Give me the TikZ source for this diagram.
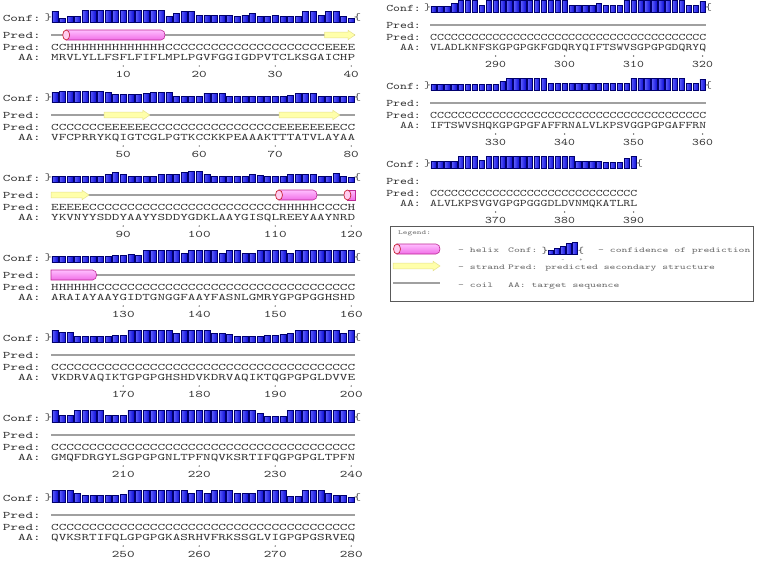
\documentclass[tikz,border=0pt]{standalone}
\usepackage{graphicx}
\definecolor{confdark}{RGB}{0,0,110}
\definecolor{confl}{RGB}{95,95,255}
\definecolor{confr}{RGB}{15,15,215}
\definecolor{coilgray}{RGB}{160,160,160}
\definecolor{helixtop}{RGB}{255,190,255}
\definecolor{helixbot}{RGB}{240,110,230}
\definecolor{helixline}{RGB}{190,40,150}
\definecolor{capfill}{RGB}{255,205,240}
\definecolor{capline}{RGB}{200,40,60}
\definecolor{strandfill}{RGB}{255,255,170}
\definecolor{strandline}{RGB}{230,225,140}
\definecolor{txt}{RGB}{50,50,50}
\definecolor{legtxt}{RGB}{110,110,110}
\newcommand\mytt[3]{\scalebox{#1}[1]{\fontsize{#2}{#2}\selectfont\ttfamily #3}}
\def\Cx{CCCCCCCCCC}
\newcommand\drawblock[9]{%
  \foreach \cv [count=\ii] in {#7}{%
    \pgfmathsetmacro\xl{#1+(\ii-1)*#2+0.8}%
    \pgfmathsetmacro\hh{1.0*\cv+2.5}%
    \path[confbar] (\xl,#3+22) rectangle ++(#2-1.6,-\hh);%
  }%
  \node[brk,anchor=base] at (#1-2.5,#3+20) {\mytt{#5}{10}{\}}};%
  \node[brk,anchor=base] at (#1+\nres*#2+2.5,#3+20) {\mytt{#5}{10}{\{}};%
  \node[lab,anchor=base east] at (#4,#3+21) {\mytt{#5}{10}{Conf:}};%
  \node[lab,anchor=base east] at (#4,#3+38) {\mytt{#5}{10}{Pred:}};%
  \node[lab,anchor=base east] at (#4,#3+50) {\mytt{#5}{10}{Pred:}};%
  \node[lab,anchor=base east] at (#4,#3+60) {\mytt{#5}{10}{AA:}};%
  \node[seqt,anchor=base west] at (#1,#3+50) {\mytt{#5}{10}{#8}};%
  \node[seqt,anchor=base west] at (#1,#3+60) {\mytt{#5}{10}{#9}};%
  \foreach \tk in \ticks{%
    \pgfmathtruncatemacro\num{#6+\tk}%
    \fill[txt] (#1+\tk*#2-0.5*#2,#3+66) circle (0.7pt);%
    \node[numt,anchor=base] at (#1+\tk*#2-0.5*#2,#3+77) {\mytt{#5}{10}{\num}};%
  }%
}
\newcommand\helixA[3]{%
  \path[helixbody] (#1,#3-5) -- (#2-4,#3-5) .. controls (#2+1.3,#3-5) and (#2+1.3,#3+5) .. (#2-4,#3+5) -- (#1,#3+5) -- cycle;
  \path[helixcap] (#1,#3) ellipse [x radius=3.5pt, y radius=5pt];
}
\newcommand\helixB[3]{%
  \path[helixbody] (#1,#3-5) -- (#2,#3-5) -- (#2,#3+5) -- (#1,#3+5) -- cycle;
  \path[helixcap] (#1,#3) ellipse [x radius=3.5pt, y radius=5pt];
}
\newcommand\helixC[3]{%
  \path[helixbody] (#1,#3-5) -- (#2-4,#3-5) .. controls (#2+1.3,#3-5) and (#2+1.3,#3+5) .. (#2-4,#3+5) -- (#1,#3+5) -- cycle;
}
\newcommand\strandarrow[3]{%
  \path[strandsty] (#1,#3-2.8) -- (#2-7,#3-2.8) -- (#2-7,#3-4.8) -- (#2,#3) -- (#2-7,#3+4.8) -- (#2-7,#3+2.8) -- (#1,#3+2.8) -- cycle;
}
\begin{document}
\begin{tikzpicture}[x=1pt,y=-1pt,
  confbar/.style={draw=confdark,line width=0.45pt,left color=confl,right color=confr},
  coil/.style={draw=coilgray,line width=1.1pt},
  helixbody/.style={draw=helixline,line width=0.6pt,top color=helixtop,bottom color=helixbot},
  helixcap/.style={draw=capline,line width=0.7pt,fill=capfill},
  strandsty/.style={draw=strandline,line width=0.5pt,fill=strandfill},
  lab/.style={inner sep=0pt,text=txt},
  seqt/.style={inner sep=0pt,text=txt},
  numt/.style={inner sep=0pt,text=txt},
  brk/.style={inner sep=0pt,text=black!70},
  legt/.style={inner sep=0pt,text=legtxt,anchor=base west}]
\path[fill=white] (0,0) rectangle (758,562);
\useasboundingbox (0,0) rectangle (758,562);
% ---------------- left column ----------------
\def\nres{40}\def\ticks{10,20,30,40}
\drawblock{51}{7.6}{0}{41}{1.4476}{0}{8,1,3,3,9,9,9,9,9,9,9,9,9,9,9,3,6,8,8,4,4,4,4,4,3,4,6,3,3,4,3,3,3,8,8,4,8,8,3,1}{CCHHHHHHHHHHHHH\Cx\Cx CEEEE}{MRVLYLLFSFLFIFLMPLPGVFGGIGDPVTCLKSGAICHP}
\drawblock{51}{7.6}{80}{41}{1.4476}{40}{7,8,8,8,8,8,8,7,5,5,5,5,6,7,7,7,3,3,3,3,6,6,6,3,3,3,3,3,3,3,3,4,6,6,6,3,3,3,3,3}{CCCCCCCEEEEEE\Cx CCCCCCCEEEEEEEECC}{VFCPRRYKQIGTCGLPGTKCCKKPEAAAKTTTATVLAYAA}
\drawblock{51}{7.6}{160}{41}{1.4476}{80}{3,3,3,3,3,3,3,5,7,5,3,3,3,3,5,5,5,7,8,8,5,3,3,3,3,3,5,4,3,3,3,5,5,5,5,3,3,6,3,2}{EEEEE\Cx\Cx CCCCCHHHHHCCCCH}{YKVNYYSDDYAAYYSDDYGDKLAAYGISQLREEYAAYNRD}
\drawblock{51}{7.6}{240}{41}{1.4476}{120}{3,3,3,3,3,3,3,3,4,4,5,4,9,9,9,9,9,6,9,9,9,9,6,9,9,6,6,9,9,9,9,6,9,9,9,9,9,9,9,9}{HHHHHH\Cx\Cx\Cx CCCC}{ARAIAYAAYGIDTGNGGFAAYFASNLGMRYGPGPGGHSHD}
\drawblock{51}{7.6}{320}{41}{1.4476}{160}{9,7,7,3,3,3,3,3,4,4,9,9,9,9,9,9,6,9,9,9,9,6,6,5,3,3,3,3,4,4,5,6,9,9,9,9,9,9,6,9}{\Cx\Cx\Cx\Cx}{VKDRVAQIKTGPGPGHSHDVKDRVAQIKTQGPGPGLDVVE}
\drawblock{51}{7.6}{400}{41}{1.4476}{200}{9,4,4,9,9,9,9,4,4,4,9,9,9,9,9,9,9,9,9,9,9,9,9,9,9,9,9,6,3,3,3,9,9,9,9,9,9,9,9,9}{\Cx\Cx\Cx\Cx}{GMQFDRGYLSGPGPGNLTPFNQVKSRTIFQGPGPGLTPFN}
\drawblock{51}{7.6}{480}{41}{1.4476}{240}{9,9,9,6,4,4,4,4,4,5,9,9,9,9,9,9,9,9,6,9,6,9,9,9,6,6,6,9,9,9,9,3,3,9,9,9,6,4,4,2}{\Cx\Cx\Cx\Cx}{QVKSRTIFQLGPGPGKASRHVFRKSSGLVIGPGPGSRVEQ}
% secondary structure, left
\foreach \yy in {35,115,195,275,355,435,515}{\draw[coil] (51,\yy) -- (355,\yy);}
\helixA{66.2}{165}{35}
\strandarrow{324.6}{355}{35}
\strandarrow{104.2}{149.8}{115}
\strandarrow{279}{339.8}{115}
\strandarrow{51}{89}{195}
\helixA{279}{317}{195}
\helixB{347.4}{355}{195}
\helixC{51}{96.6}{275}
% ---------------- right column ----------------
\drawblock{430}{6.9}{-10}{421}{1.3143}{280}{3,3,3,6,9,9,9,4,9,9,9,9,9,9,9,9,9,9,9,9,4,4,4,4,6,4,4,4,9,9,9,9,9,9,9,9,9,4,4,8}{\Cx\Cx\Cx\Cx}{VLADLKNFSKGPGPGKFGDQRYQIFTSWVSGPGPGDQRYQ}
\drawblock{430}{6.9}{68}{421}{1.3143}{320}{3,3,3,3,3,3,3,3,3,3,6,9,9,9,9,9,9,4,4,4,4,4,4,4,4,4,4,4,4,9,9,9,9,9,9,9,9,4,4,8}{\Cx\Cx\Cx\Cx}{IFTSWVSHQKGPGPGFAFFRNALVLKPSVGGPGPGAFFRN}
\def\nres{30}\def\ticks{10,20,30}
\drawblock{430}{6.9}{146}{421}{1.3143}{360}{4,4,4,4,9,9,9,5,9,9,9,9,9,9,9,9,9,9,9,9,9,4,4,4,4,3,3,3,7,9}{\Cx\Cx\Cx}{ALVLKPSVGVGPGPGGGDLDVNMQKATLRL}
\draw[coil] (430,25) -- (706,25);
\draw[coil] (430,103) -- (706,103);
% ---------------- legend ----------------
\draw[draw=black!65,line width=0.8pt] (390,226) rectangle (753,301);
\node[legt] (leg) at (398,234) {\mytt{1.47}{6}{Legend:}};
\helixA{397}{440}{249}
\strandarrow{393}{440}{266}
\draw[coil] (393,283) -- (440,283);
\node[legt] (lh) at (458,252) {\mytt{1.47}{7.5}{- helix}};
\node[legt] (ls) at (458,269) {\mytt{1.47}{7.5}{- strand}};
\node[legt] (lc) at (458,287) {\mytt{1.47}{7.5}{- coil}};
\node[legt] (lconf) at (508,252) {\mytt{1.47}{7.5}{Conf:}};
\node[brk,anchor=base] (lb1) at (545,253) {\mytt{1.3}{9}{\}}};
\foreach \cv [count=\ii] in {1,3,5,8,9}{%
  \pgfmathsetmacro\xl{548+(\ii-1)*6+0.6}%
  \pgfmathsetmacro\hh{1.0*\cv+2.5}%
  \path[confbar] (\xl,254) rectangle ++(4.8,-\hh);}
\node[brk,anchor=base] (lb2) at (581,253) {\mytt{1.3}{9}{\{}};
\node[legt,anchor=base] (lminus) at (563,261) {\mytt{1.2}{5}{-}};
\node[legt,anchor=base] (lplus) at (581,261) {\mytt{1.2}{5}{+}};
\node[legt] (lcd) at (598,252) {\mytt{1.47}{7.5}{- confidence of prediction}};
\node[legt] (lpd) at (508,269) {\mytt{1.47}{7.5}{Pred: predicted secondary structure}};
\node[legt] (laa) at (508,287) {\mytt{1.47}{7.5}{AA: target sequence}};
\end{tikzpicture}
\end{document}
